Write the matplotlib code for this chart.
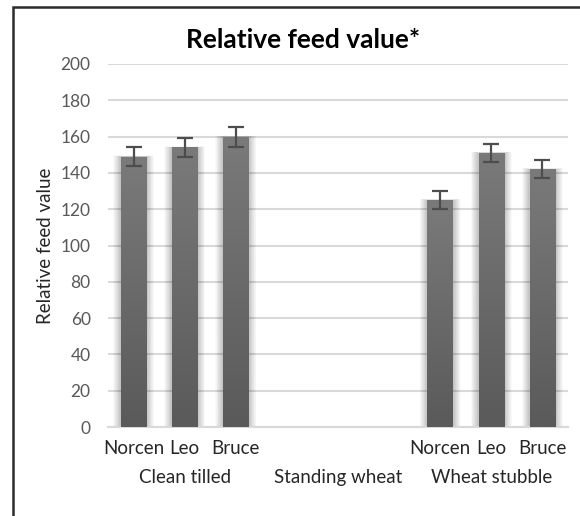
import numpy as np
import matplotlib.pyplot as plt
from matplotlib.patches import Rectangle

# данные
groups = ["Clean tilled", "Standing wheat", "Wheat stubble"]
varieties = ["Norcen", "Leo", "Bruce"]
values = [
    [149, 154, 160],
    [np.nan, np.nan, np.nan],
    [125, 151, 142],
]
errors = [
    [5, 5.5, 5.5],
    [np.nan, np.nan, np.nan],
    [5, 5, 5],
]

plt.rcParams['font.family'] = ['Lato', 'DejaVu Sans']

fig = plt.figure(figsize=(5.8, 5.16), dpi=100)
ax = fig.add_axes([108 / 580, 1 - 427 / 516, 460 / 580, 363 / 516])

# рамка вокруг всей диаграммы (обрезана справа и снизу)
fig.patches.append(Rectangle((12.5 / 580, -0.1), 1.2, 1.1 - 7 / 516, transform=fig.transFigure,
                             fill=False, edgecolor='#2b2b2b', linewidth=1.8))

n_slots = len(groups) * len(varieties)
width = 0.5

# градиент для столбцов: светлее сверху, темнее снизу
grad = np.linspace(0, 1, 256).reshape(-1, 1)
cmap = plt.matplotlib.colors.LinearSegmentedColormap.from_list('g', ['#5a5a5a', '#7a7a7a'])

for gi, g in enumerate(groups):
    for vi, v in enumerate(varieties):
        val = values[gi][vi]
        if np.isnan(val):
            continue
        xc = gi * 3 + vi + 0.5
        # мягкая тень
        for k in np.linspace(0.015, 0.15, 12):
            ax.add_patch(Rectangle((xc - width / 2 - k, 0), width + 2 * k, val + k * 4,
                                   facecolor='#000000', alpha=0.018, linewidth=0, zorder=2))
        bar = ax.bar(xc, val, width=width, color='none', zorder=3)[0]
        im = ax.imshow(grad, cmap=cmap, aspect='auto', origin='lower',
                       extent=[xc - width / 2, xc + width / 2, 0, val], zorder=3)
        im.set_clip_path(bar)
        ax.errorbar(xc, val, yerr=errors[gi][vi], fmt='none', ecolor='#4d4d4d',
                    elinewidth=1.6, capsize=5.5, capthick=1.6, zorder=4)

ax.set_xlim(0, n_slots)
ax.set_ylim(0, 200)
ax.set_yticks(np.arange(0, 201, 20))
ax.yaxis.grid(True, color='#d9d9d9', linewidth=1.5, zorder=0)
ax.set_axisbelow(True)
for s in ['top', 'right', 'left']:
    ax.spines[s].set_visible(False)
ax.spines['bottom'].set_color('#d9d9d9')
ax.spines['bottom'].set_linewidth(1.5)
ax.tick_params(axis='y', length=0, labelsize=12.5, labelcolor='#595959', pad=12.5)
ax.tick_params(axis='x', length=0)
ax.set_xticks([])

# подписи сортов и групп
for gi, g in enumerate(groups):
    for vi, v in enumerate(varieties):
        if gi == 1:
            continue
        ax.text(gi * 3 + vi + 0.5, -11.6, v, ha='center', va='center', fontsize=13.5,
                color='#262626')
    ax.text(gi * 3 + 1.5, -27.8, g, ha='center', va='center', fontsize=13.5, color='#262626')

ax.set_ylabel("Relative feed value", fontsize=13.5, color='#262626')
ax.yaxis.set_label_coords(-0.117, 0.5)
fig.text(303 / 580, 1 - 40 / 516, "Relative feed value*", ha='center', va='center',
         fontsize=19, fontweight='bold')

fig.savefig("out.png", dpi=100)
